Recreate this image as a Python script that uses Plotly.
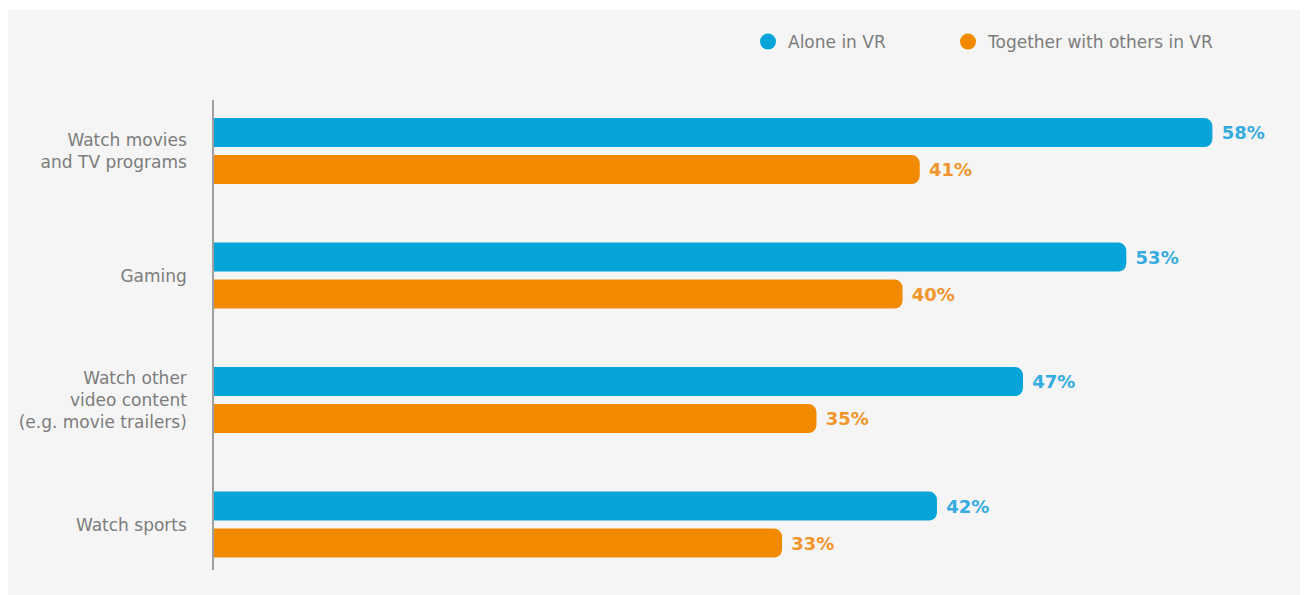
import plotly.graph_objects as go

# Survey categories (top to bottom) and the share of respondents per mode
categories = [
    "Watch movies<br>and TV programs",
    "Gaming",
    "Watch other<br>video content<br>(e.g. movie trailers)",
    "Watch sports",
]
alone_vr = [58, 53, 47, 42]
together_vr = [41, 40, 35, 33]

series_names = ["Alone in VR", "Together with others in VR"]
bar_colors = ["#06a4d9", "#f28a00"]
label_colors = ["#35ace0", "#f0952b"]

FONT = "DejaVu Sans"
NBSP = "\u00a0"

fig = go.Figure()

for name, values, color, lcolor in zip(series_names, [alone_vr, together_vr],
                                       bar_colors, label_colors):
    fig.add_trace(go.Bar(
        y=categories,
        x=values,
        orientation="h",
        name=name,
        marker=dict(color=color, line=dict(width=0)),
        text=[f"{NBSP}{v}%" for v in values],
        textposition="outside",
        textfont=dict(family=FONT, size=18, color=lcolor, weight="bold"),
        constraintext="none",
        cliponaxis=False,
        showlegend=False,
        hoverinfo="skip",
    ))

# Round legend swatches, one legend box per series so each sits where it should
legend_ids = ["legend", "legend2"]
for name, color, lid in zip(series_names, bar_colors, legend_ids):
    fig.add_trace(go.Scatter(
        x=[None], y=[None],
        mode="markers",
        name=name,
        marker=dict(color=color, size=16, symbol="circle"),
        showlegend=True,
        legend=lid,
    ))

legend_style = dict(
    orientation="h",
    xref="container",
    yref="container",
    xanchor="left",
    y=1 - 42 / 595,
    yanchor="middle",
    bgcolor="rgba(0,0,0,0)",
    font=dict(family=FONT, size=17, color="#7c7c7c"),
    itemclick=False,
)

fig.update_layout(
    width=1305,
    height=595,
    margin=dict(l=214, r=10, t=100, b=25),
    paper_bgcolor="white",
    plot_bgcolor="rgba(0,0,0,0)",
    barmode="group",
    bargap=0.406,
    bargroupgap=0.216,
    barcornerradius=8,
    font=dict(family=FONT, color="#7c7c7c", size=16),
    xaxis=dict(
        range=[0, 62.8],
        visible=False,
        showgrid=False,
        zeroline=False,
        fixedrange=True,
    ),
    yaxis=dict(
        type="category",
        categoryorder="array",
        categoryarray=categories,
        range=[3.365, -0.41],
        showgrid=False,
        zeroline=False,
        showline=True,
        linecolor="#a0a0a0",
        linewidth=1.5,
        ticks="",
        ticklabelstandoff=22,
        tickfont=dict(family=FONT, size=17, color="#7c7c7c"),
    ),
    legend=dict(legend_style, x=748 / 1305),
    legend2=dict(legend_style, x=948 / 1305),
    shapes=[
        # light grey panel behind the whole chart
        dict(
            type="rect", xref="paper", yref="paper", layer="below",
            x0=(8 - 214) / 1081, x1=(1300 - 214) / 1081,
            y0=-25 / 470, y1=1 + 90 / 470,
            fillcolor="#f5f5f5", line=dict(width=0),
        ),
    ],
)

fig.write_html("out.html")
